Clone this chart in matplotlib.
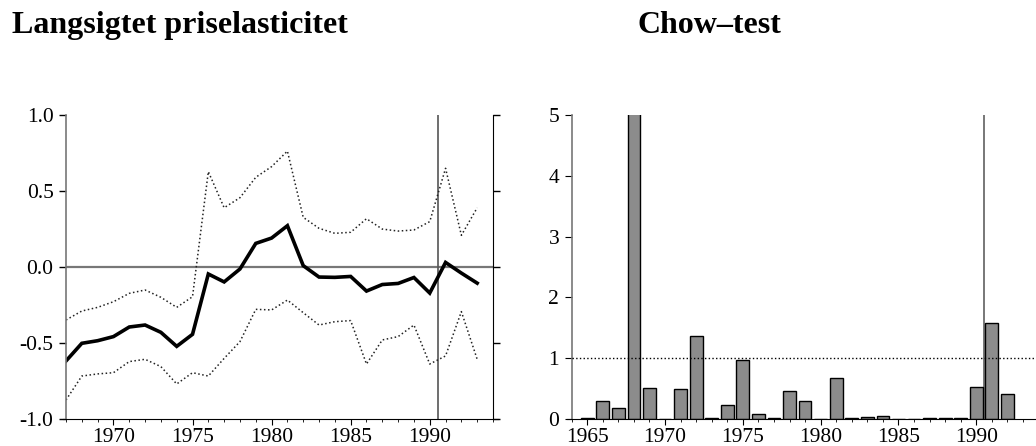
import matplotlib
matplotlib.use('Agg')
import matplotlib.pyplot as plt
from matplotlib.ticker import MultipleLocator

plt.rcParams['font.family'] = ['Liberation Serif', 'DejaVu Serif']
plt.rcParams['axes.unicode_minus'] = False

# Long-run price elasticity with confidence band (recursive estimates)
years = list(range(1967, 1994))
elasticity = [-0.617, -0.501, -0.484, -0.457, -0.394, -0.381, -0.429, -0.521, -0.442,
              -0.046, -0.098, -0.013, 0.155, 0.190, 0.271, 0.009, -0.066, -0.068,
              -0.062, -0.158, -0.115, -0.108, -0.069, -0.171, 0.030, -0.040, -0.106]
upper = [-0.348, -0.289, -0.265, -0.228, -0.173, -0.151, -0.199, -0.265, -0.195,
         0.626, 0.389, 0.455, 0.589, 0.659, 0.761, 0.326, 0.254, 0.221,
         0.228, 0.317, 0.249, 0.236, 0.243, 0.298, 0.648, 0.208, 0.389]
lower = [-0.873, -0.716, -0.702, -0.694, -0.621, -0.606, -0.654, -0.768, -0.694,
         -0.716, -0.600, -0.490, -0.278, -0.282, -0.217, -0.300, -0.381, -0.359,
         -0.352, -0.637, -0.479, -0.457, -0.381, -0.637, -0.584, -0.293, -0.606]

# Chow test statistics per year
chow_years = list(range(1965, 1993))
chow = [0.02, 0.295, 0.18, 6.5, 0.51, 0.0, 0.50, 1.36, 0.015, 0.24, 0.97, 0.08, 0.015, 0.46,
        0.295, 0.01, 0.67, 0.015, 0.03, 0.06, 0.005, 0.0, 0.025, 0.025, 0.015, 0.525, 1.58, 0.41]

break_year = 1990.5
elast_ticks = [-1.0, -0.5, 0.0, 0.5, 1.0]
elast_labels = ['-1.0', '-0.5', '0.0', '0.5', '1.0']
year_ticks_left = [1970, 1975, 1980, 1985, 1990]
year_ticks_right = [1965, 1970, 1975, 1980, 1985, 1990]
chow_ticks = [0, 1, 2, 3, 4, 5]

W, H = 1036, 446
fig = plt.figure(figsize=(W / 100, H / 100), dpi=100)

grey = '#777777'
fs = 15.5

# ---- left panel ----
ax1 = fig.add_axes([66 / W, (H - 419.3) / H, 427 / W, 304.6 / H])
ax1.plot(years, upper, ':', color='#222222', lw=1.1)
ax1.plot(years, lower, ':', color='#222222', lw=1.1)
ax1.plot(years, elasticity, '-', color='black', lw=2.6, solid_joinstyle='miter')
ax1.axhline(0, color=grey, lw=1.6, zorder=1)
ax1.axvline(break_year, color='#555555', lw=1.2, zorder=1)
ax1.set_xlim(1967, 1994)
ax1.set_ylim(-1.0, 1.0)
ax1.set_yticks(elast_ticks)
ax1.set_yticklabels(elast_labels)
ax1.set_xticks(year_ticks_left)
ax1.xaxis.set_minor_locator(MultipleLocator(1))
ax1.spines['top'].set_visible(False)
ax1.spines['left'].set_color(grey)
ax1.spines['left'].set_linewidth(1.2)
ax1.spines['right'].set_color('black')
ax1.spines['bottom'].set_bounds(1966.8, 1994.3)
ax1.tick_params(axis='y', direction='out', length=5, labelsize=fs, right=True, width=1, pad=4)
ax1.tick_params(axis='x', which='major', direction='out', length=4, labelsize=fs, pad=2.5)
ax1.tick_params(axis='x', which='minor', direction='out', length=2.5)

# ---- right panel ----
ax2 = fig.add_axes([571.7 / W, (H - 419.3) / H, (W - 571.7) / W, 304.6 / H])
ax2.bar(chow_years, chow, width=0.82, color='#8c8c8c', edgecolor='black', linewidth=1.0, zorder=2)
ax2.axhline(1, color='black', lw=1.0, ls=':', zorder=3)
ax2.axvline(break_year, color=grey, lw=1.4, zorder=1)
ax2.set_xlim(1964, 1993.84)
ax2.set_ylim(0, 5)
ax2.set_yticks(chow_ticks)
ax2.set_xticks(year_ticks_right)
ax2.xaxis.set_minor_locator(MultipleLocator(1))
ax2.spines['top'].set_visible(False)
ax2.spines['right'].set_visible(False)
ax2.spines['left'].set_color(grey)
ax2.spines['left'].set_linewidth(1.2)
ax2.spines['bottom'].set_bounds(1963.7, 1993.84)
ax2.tick_params(axis='y', direction='out', length=5, labelsize=fs, pad=4)
ax2.tick_params(axis='x', which='major', direction='out', length=4, labelsize=fs, pad=2.5)
ax2.tick_params(axis='x', which='minor', direction='out', length=2.5)

# ---- panel titles ----
fig.text(12 / W, 1 - 33 / H, 'Langsigtet priselasticitet', fontsize=23, fontweight='bold',
         va='baseline', ha='left')
fig.text(637.7 / W, 1 - 33 / H, 'Chow–test', fontsize=23, fontweight='bold',
         va='baseline', ha='left')

fig.savefig('out.png', dpi=100)
